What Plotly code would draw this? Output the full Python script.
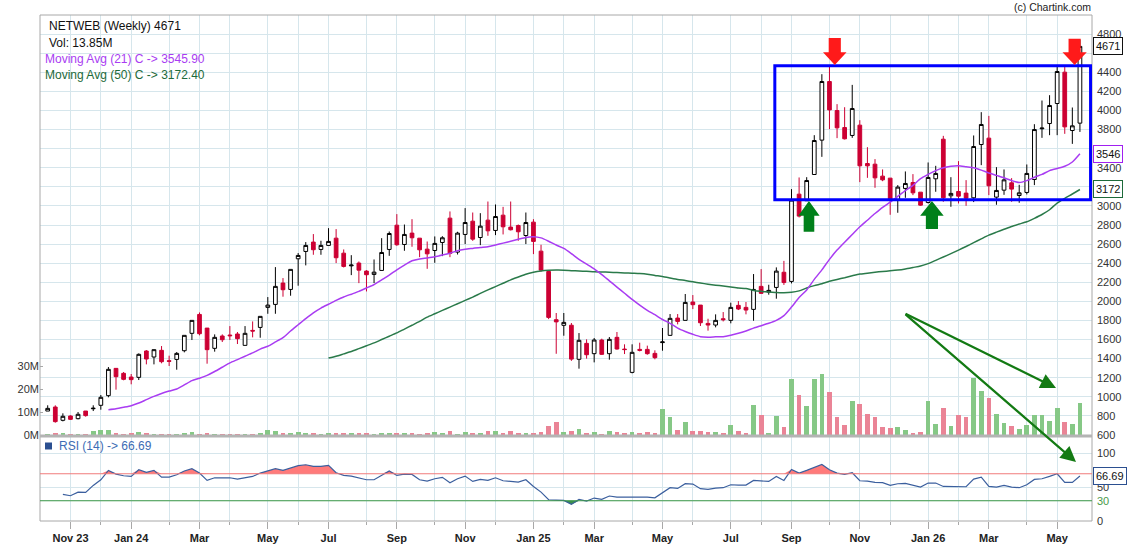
import plotly.graph_objects as go
import pandas as pd
import numpy as np

# ---------------- data ----------------
start_week = "2023-10-16"

opens = [851, 893, 754, 799, 771, 851, 875, 911, 1012, 1298,
         1246, 1207, 1204, 1480, 1417, 1487, 1378, 1392, 1483, 1665,
         1863, 1720, 1508, 1637, 1647, 1658, 1539, 1696, 1727, 1937,
         1968, 2192, 2125, 2446, 2523, 2621, 2544, 2586, 2662, 2505,
         2372, 2401, 2317, 2282, 2324, 2544, 2798, 2596, 2715, 2662,
         2547, 2533, 2617, 2872, 2516, 2701, 2840, 2669, 2851, 2743,
         2903, 2778, 2795, 2690, 2830, 2526, 2313, 1808, 1749, 1750,
         1393, 1560, 1452, 1595, 1452, 1623, 1500, 1256, 1497, 1497,
         1455, 1568, 1644, 1825, 1801, 1993, 1961, 1769, 1752, 1818,
         1801, 1958, 1937, 1916, 2157, 2097, 2146, 2305, 2209, 3123,
         3054, 3329, 3689, 4303, 3999, 3821, 3738, 3846, 3444, 3437,
         3312, 3291, 3064, 3183, 3245, 3144, 3036, 3284, 3699, 3106,
         3151, 3134, 3085, 3643, 3710, 3092, 3165, 3242, 3109, 3141,
         3277, 3808, 3863, 4073, 4401, 3790, 3867]
highs = [911, 911, 827, 806, 841, 851, 911, 1019, 1312, 1298,
         1260, 1239, 1455, 1490, 1494, 1532, 1431, 1469, 1644, 1801,
         1884, 1720, 1654, 1654, 1741, 1679, 1741, 1790, 1843, 2045,
         2359, 2244, 2335, 2506, 2621, 2705, 2635, 2767, 2757, 2544,
         2484, 2418, 2327, 2439, 2662, 2732, 2914, 2805, 2861, 2662,
         2627, 2680, 2683, 2942, 2729, 2977, 2931, 2924, 3046, 3015,
         2990, 3046, 2805, 2931, 2861, 2593, 2313, 1878, 1878, 1773,
         1668, 1602, 1616, 1609, 1626, 1679, 1550, 1550, 1567, 1536,
         1487, 1721, 1867, 1867, 2077, 2066, 1961, 1818, 1864, 1888,
         1986, 2003, 1993, 2286, 2338, 2174, 2356, 2424, 3176, 3298,
         3301, 3741, 4380, 4467, 4066, 4034, 4268, 3898, 3615, 3490,
         3382, 3291, 3218, 3361, 3333, 3144, 3455, 3420, 3734, 3301,
         3469, 3270, 3738, 3982, 3943, 3406, 3382, 3291, 3221, 3434,
         3856, 4104, 4160, 4477, 4474, 4031, 4742]
lows = [851, 729, 743, 757, 764, 792, 851, 865, 995, 1075,
        1173, 1131, 1176, 1340, 1340, 1351, 1323, 1284, 1466, 1595,
        1644, 1347, 1473, 1574, 1595, 1553, 1539, 1623, 1619, 1870,
        1870, 2049, 2059, 2164, 2377, 2488, 2488, 2586, 2401, 2355,
        2275, 2191, 2104, 2191, 2324, 2477, 2582, 2530, 2572, 2463,
        2341, 2404, 2474, 2463, 2491, 2600, 2634, 2589, 2687, 2694,
        2701, 2743, 2635, 2600, 2495, 2313, 1814, 1451, 1640, 1377,
        1295, 1400, 1361, 1438, 1389, 1494, 1448, 1246, 1476, 1441,
        1393, 1483, 1640, 1759, 1801, 1919, 1742, 1693, 1728, 1790,
        1770, 1909, 1864, 1797, 2080, 2070, 2028, 2172, 2188, 2879,
        3054, 3329, 3514, 3804, 3710, 3696, 3713, 3249, 3294, 3190,
        3259, 2907, 2928, 3085, 3113, 3001, 3026, 3148, 3043, 2991,
        3026, 3001, 3040, 3427, 3113, 3012, 3116, 3043, 3033, 3120,
        3218, 3713, 3741, 3741, 3755, 3650, 3775]
closes = [879, 740, 796, 764, 817, 803, 880, 995, 1288, 1211,
          1183, 1180, 1445, 1396, 1494, 1368, 1372, 1455, 1644, 1801,
          1661, 1494, 1623, 1598, 1640, 1609, 1665, 1689, 1843, 1961,
          2157, 2122, 2335, 2481, 2586, 2541, 2586, 2628, 2457, 2366,
          2380, 2327, 2279, 2306, 2512, 2711, 2593, 2701, 2666, 2540,
          2498, 2607, 2666, 2502, 2715, 2826, 2652, 2788, 2739, 2889,
          2781, 2750, 2729, 2826, 2628, 2327, 1832, 1785, 1780, 1395,
          1592, 1441, 1595, 1445, 1602, 1501, 1495, 1466, 1487, 1452,
          1410, 1575, 1822, 1790, 1989, 1965, 1776, 1752, 1801, 1808,
          1937, 1920, 1909, 2125, 2084, 2115, 2317, 2197, 3061, 2893,
          3266, 3685, 4303, 4006, 3818, 3703, 4020, 3420, 3420, 3294,
          3273, 3064, 3197, 3235, 3137, 3008, 3298, 3340, 3085, 3131,
          3102, 3081, 3622, 3853, 3211, 3162, 3273, 3176, 3137, 3340,
          3800, 3815, 4052, 4408, 3828, 3839, 4671]
volume_m = [0.4, 0.9, 0.9, 0.4, 0.4, 0.4, 1.7, 2.2, 2.2, 0.9,
            0.4, 0.6, 1.2, 0.9, 0.4, 0.4, 0.2, 0.4, 0.9, 1.3,
            0.4, 0.9, 0.4, 0.4, 0.4, 0.4, 0.4, 0.4, 0.9, 2.2,
            1.7, 0.9, 0.9, 1.3, 0.9, 0.9, 0.4, 0.9, 0.9, 0.9,
            0.9, 0.9, 0.9, 0.4, 0.9, 0.9, 0.9, 0.9, 0.9, 0.4,
            0.9, 1.3, 0.9, 1.7, 0.4, 1.3, 0.9, 0.9, 1.7, 1.7,
            0.9, 1.7, 0.9, 0.9, 0.9, 1.3, 3.9, 5.7, 1.3, 1.7,
            2.6, 0.9, 1.3, 0.4, 1.7, 1.3, 0.9, 1.3, 1.0, 1.3,
            0.9, 11.3, 7.8, 2.2, 5.7, 1.7, 1.7, 1.3, 1.3, 0.9,
            4.3, 1.7, 0.9, 13.0, 8.7, 0.9, 8.3, 3.5, 24.3, 17.4,
            12.6, 24.3, 26.5, 18.7, 7.8, 4.3, 14.8, 13.5, 9.1, 7.8,
            3.5, 3.0, 3.5, 2.2, 0.9, 1.3, 14.8, 4.8, 11.7, 3.9,
            8.7, 7.8, 24.8, 19.1, 16.1, 9.1, 5.2, 3.9, 2.6, 4.3,
            8.7, 8.7, 6.1, 11.7, 5.7, 4.8, 13.85]

ma21_start = 8
ma21 = [865, 875, 890, 907, 935, 970, 1005, 1035, 1060, 1082,
        1125, 1170, 1195, 1225, 1265, 1310, 1355, 1390, 1425, 1460,
        1500, 1530, 1575, 1620, 1690, 1755, 1820, 1880, 1930, 1970,
        2010, 2045, 2075, 2105, 2140, 2175, 2225, 2275, 2330, 2380,
        2425, 2445, 2455, 2467, 2485, 2505, 2530, 2545, 2555, 2565,
        2572, 2590, 2610, 2630, 2650, 2670, 2678, 2665, 2630, 2590,
        2555, 2500, 2440, 2390, 2340, 2280, 2215, 2150, 2085, 2020,
        1960, 1905, 1860, 1810, 1770, 1720, 1685, 1655, 1630, 1625,
        1628, 1630, 1645, 1665, 1690, 1720, 1745, 1770, 1800, 1850,
        1940, 2040, 2120, 2230, 2330, 2440, 2537, 2620, 2700, 2781,
        2850, 2920, 2985, 3040, 3100, 3160, 3215, 3285, 3330, 3370,
        3400, 3415, 3420, 3410, 3400, 3375, 3345, 3320, 3295, 3265,
        3245, 3265, 3300, 3330, 3370, 3392, 3415, 3460, 3546]

ma50_start = 37
ma50 = [1406, 1425, 1450, 1475, 1505, 1535, 1565, 1600, 1635, 1670,
        1710, 1750, 1790, 1835, 1870, 1905, 1940, 1975, 2010, 2045,
        2083, 2120, 2155, 2190, 2225, 2255, 2285, 2305, 2318, 2325,
        2328, 2327, 2322, 2318, 2315, 2310, 2308, 2305, 2302, 2298,
        2295, 2292, 2285, 2272, 2260, 2245, 2230, 2218, 2205, 2192,
        2180, 2170, 2160, 2150, 2140, 2134, 2115, 2105, 2098, 2092,
        2090, 2095, 2110, 2140, 2165, 2185, 2210, 2230, 2248, 2268,
        2286, 2295, 2305, 2313, 2320, 2328, 2340, 2355, 2370, 2395,
        2430, 2465, 2500, 2537, 2575, 2615, 2655, 2694, 2725, 2755,
        2785, 2810, 2834, 2870, 2910, 2960, 3030, 3080, 3125, 3172]

rsi_start = 2
rsi = [39.4, 37.4, 42.8, 42.3, 52.7, 61, 74.9, 69.5, 67, 66,
       75.9, 72, 74.9, 65, 65, 68.5, 74, 77.4, 71, 60.1,
       64, 63.6, 64, 62.1, 64, 66, 71, 74, 77.4, 74.9,
       78.9, 81.9, 83.3, 80.9, 80.9, 82.3, 71.5, 67.5, 66.5, 64,
       61.1, 61.1, 67.5, 74, 67.5, 69.5, 69, 61.1, 59.1, 62.6,
       64.6, 56.7, 62.6, 66.5, 58.6, 61.6, 60.1, 64, 59.6, 58.1,
       57.7, 61.1, 51.2, 42.8, 31.5, 31, 30.5, 24.6, 32, 29.5,
       34, 32, 37, 35.4, 35.4, 35, 36, 35.4, 34.4, 41.4,
       49.3, 48.3, 55.2, 54.7, 47.8, 46.8, 48.8, 49.3, 53.7, 53.2,
       53.2, 60.1, 59.1, 58.6, 66, 60.1, 76.4, 71, 74.9, 78.9,
       83.8, 75.9, 71, 69, 71.5, 59.6, 59.1, 57.2, 56.7, 52.7,
       55.2, 55.7, 53.2, 50.2, 56.2, 56.2, 51.2, 51.2, 50.7, 50.7,
       62.1, 65, 51.2, 50.2, 52.7, 50.2, 49.3, 53.7, 61.6, 62.6,
       66, 70, 57.2, 57.2, 66.69]

tick_labels = ["Nov 23", "Jan 24", "Mar", "May", "Jul", "Sep", "Nov", "Jan 25",
               "Mar", "May", "Jul", "Sep", "Nov", "Jan 26", "Mar", "May"]
price_ticks = list(range(600, 4801, 200))
hidden_price_ticks = [3200, 3600, 4600]
vol_ticks_m = [0, 10, 20, 30]
rsi_ticks = [0, 30, 50, 100]
last_close = 4671
last_ma21 = 3545.90
last_ma50 = 3172.40
last_rsi = 66.69
last_vol = 13.85

# ---------------- derived positions ----------------
n = len(closes)
idx = np.arange(n)
dates = pd.date_range(start_week, periods=n, freq="7D")
month_starts = [i for i in range(1, n) if dates[i].month != dates[i - 1].month]
major = [i for i in month_starts if dates[i].month % 2 == 1]
minor = [i for i in month_starts if dates[i].month % 2 == 0]

ma21_x = np.arange(ma21_start, ma21_start + len(ma21))
ma50_x = np.arange(ma50_start, ma50_start + len(ma50))
rsi_x = np.arange(rsi_start, rsi_start + len(rsi))
rsi_arr = np.array(rsi)

# ---------------- styles ----------------
GRID = "#d6e6ec"
FRAME = "#a8a8a8"
RED = "#cc0033"
PURPLE = "#a93cf2"
MAGREEN = "#2a7a4a"
RSIBLUE = "#3b5f9e"
FONT = "Liberation Sans, Arial, sans-serif"

W, H = 1127, 551
L, R, T, B = 40, 35, 15, 30
plot_h = H - T - B
main_bottom_px = 435
rsi_top_px = 437
main_dom = [(H - B - main_bottom_px) / plot_h, 1.0]
rsi_dom = [0.0, (H - B - rsi_top_px) / plot_h]

x_range = [-1.014, 137.59]
price_range = [600, 5000]
vol_range = [0, 182.6]
rsi_range = [0, 124.4]

fig = go.Figure()

vol_colors = ["#86c886" if c >= o else "#ea8496" for o, c in zip(opens, closes)]
fig.add_trace(go.Bar(x=idx, y=volume_m, yaxis="y", marker=dict(color=vol_colors, line=dict(width=0)),
                     width=0.62, hoverinfo="skip", showlegend=False))

fig.add_trace(go.Scatter(x=ma50_x, y=ma50, yaxis="y2", mode="lines",
                         line=dict(color=MAGREEN, width=1.5, shape="spline", smoothing=0.6),
                         hoverinfo="skip", showlegend=False))
fig.add_trace(go.Scatter(x=ma21_x, y=ma21, yaxis="y2", mode="lines",
                         line=dict(color=PURPLE, width=1.5, shape="spline", smoothing=0.6),
                         hoverinfo="skip", showlegend=False))

fig.add_trace(go.Candlestick(x=idx, open=opens, high=highs, low=lows, close=closes, yaxis="y2",
                             increasing=dict(line=dict(color="black", width=1), fillcolor="white"),
                             decreasing=dict(line=dict(color=RED, width=1), fillcolor=RED),
                             whiskerwidth=0, hoverinfo="skip", showlegend=False))

# RSI panel
fig.add_trace(go.Scatter(x=rsi_x, y=np.full(len(rsi_x), 70.0), yaxis="y3", mode="lines",
                         line=dict(width=0), hoverinfo="skip", showlegend=False))
fig.add_trace(go.Scatter(x=rsi_x, y=np.maximum(rsi_arr, 70.0), yaxis="y3", mode="lines",
                         line=dict(width=0), fill="tonexty", fillcolor="#ff7a7a",
                         hoverinfo="skip", showlegend=False))
fig.add_trace(go.Scatter(x=rsi_x, y=np.full(len(rsi_x), 30.0), yaxis="y3", mode="lines",
                         line=dict(width=0), hoverinfo="skip", showlegend=False))
fig.add_trace(go.Scatter(x=rsi_x, y=np.minimum(rsi_arr, 30.0), yaxis="y3", mode="lines",
                         line=dict(width=0), fill="tonexty", fillcolor="#3a8f4a",
                         hoverinfo="skip", showlegend=False))
fig.add_trace(go.Scatter(x=rsi_x, y=rsi, yaxis="y3", mode="lines",
                         line=dict(color=RSIBLUE, width=1.2),
                         hoverinfo="skip", showlegend=False))

price_text = ["" if v in hidden_price_ticks else str(v) for v in price_ticks]

fig.update_layout(
    width=W, height=H, autosize=False,
    margin=dict(l=L, r=R, t=T, b=B, pad=0, autoexpand=False),
    paper_bgcolor="white", plot_bgcolor="white",
    font=dict(family=FONT, size=11, color="#333"),
    showlegend=False,
    bargap=0,
    xaxis=dict(domain=[0, 1], range=x_range, anchor="y3", showgrid=True, gridcolor=GRID, gridwidth=1,
               automargin=False,
               tickmode="array", tickvals=major, ticktext=tick_labels,
               ticks="outside", ticklen=7, tickcolor=FRAME,
               tickfont=dict(family=FONT, size=11, color="#222", weight="bold"),
               minor=dict(tickmode="array", tickvals=minor, ticks="outside", ticklen=3,
                          tickcolor=FRAME, showgrid=True, gridcolor=GRID),
               showline=False, zeroline=False, rangeslider=dict(visible=False), fixedrange=True),
    yaxis=dict(domain=main_dom, range=vol_range, anchor="x", side="left", automargin=False,
               tickmode="array", tickvals=vol_ticks_m, ticktext=[f"{v}M" for v in vol_ticks_m],
               ticks="inside", ticklen=3, tickcolor=FRAME,
               tickfont=dict(size=11, color="#333"),
               showgrid=False, zeroline=False, showline=False),
    yaxis2=dict(domain=main_dom, range=price_range, overlaying="y", anchor="x", side="right",
                automargin=False, ticklabelstandoff=4,
                tickmode="array", tickvals=price_ticks, ticktext=price_text,
                showgrid=True, gridcolor=GRID, gridwidth=1, ticks="",
                tickfont=dict(size=11, color="#333"), zeroline=False, showline=False),
    yaxis3=dict(domain=rsi_dom, range=rsi_range, anchor="x", side="right",
                automargin=False, ticklabelstandoff=4,
                tickmode="array", tickvals=rsi_ticks,
                ticktext=["0", "<span style='color:#4a9a4a'>30</span>", "50", "100"],
                showgrid=True, gridcolor=GRID, ticks="",
                tickfont=dict(size=11, color="#333"), zeroline=False, showline=False),
)

shapes = []
# frame and separator
shapes.append(dict(type="rect", xref="paper", yref="paper", x0=0, x1=1, y0=0, y1=1,
                   line=dict(color=FRAME, width=1), layer="above"))
sep_y = (H - B - 436) / plot_h
shapes.append(dict(type="line", xref="paper", yref="paper", x0=0, x1=1, y0=sep_y, y1=sep_y,
                   line=dict(color="#b4b4b4", width=3), layer="above"))
# RSI 70 / 30 lines
shapes.append(dict(type="line", xref="paper", yref="y3", x0=0, x1=1, y0=70, y1=70,
                   line=dict(color="#f07b7b", width=1.2), layer="above"))
shapes.append(dict(type="line", xref="paper", yref="y3", x0=0, x1=1, y0=30, y1=30,
                   line=dict(color="#3f9a48", width=1.2), layer="above"))

# Blue consolidation box
box = dict(x0=95.8, x1=137.4, y0=3065, y1=4469)
shapes.append(dict(type="rect", xref="x", yref="y2", line=dict(color="#0000ff", width=3),
                   fillcolor="rgba(0,0,0,0)", layer="above", **box))

def block_arrow(cx, tip, base, tail, head_hw, shaft_hw, color):
    path = (f"M {cx},{tip} L {cx - head_hw},{base} L {cx - shaft_hw},{base} "
            f"L {cx - shaft_hw},{tail} L {cx + shaft_hw},{tail} L {cx + shaft_hw},{base} "
            f"L {cx + head_hw},{base} Z")
    return dict(type="path", xref="x", yref="y2", path=path, fillcolor=color,
                line=dict(width=0), layer="above")

# red down arrows (tip at box top)
shapes.append(block_arrow(103.7, 4476, 4610, 4760, 1.55, 0.8, "#ff1a1a"))
shapes.append(block_arrow(135.3, 4476, 4610, 4750, 1.6, 0.8, "#ff1a1a"))
# green up arrows (tip at box bottom)
shapes.append(block_arrow(100.3, 3052, 2898, 2730, 1.4, 0.7, "#00801a"))
shapes.append(block_arrow(116.5, 3052, 2898, 2758, 1.55, 0.8, "#00801a"))
fig.update_layout(shapes=shapes)

def pxx(px):
    return (px - L) / (W - L - R)

def pxy(py):
    return (H - B - py) / plot_h

ann = []
def text(x, y, s, color="#000", size=12, xanchor="left", **kw):
    ann.append(dict(xref="paper", yref="paper", x=pxx(x), y=pxy(y), text=s, showarrow=False,
                    xanchor=xanchor, yanchor="middle", font=dict(family=FONT, size=size, color=color), **kw))

text(47, 26, f"NETWEB (Weekly) {last_close}", "#111")
text(47, 43, f"Vol: {last_vol:.2f}M", "#111")
text(43, 59, f"Moving Avg (21) C -> {last_ma21:.2f}", PURPLE)
text(43, 75, f"Moving Avg (50) C -> {last_ma50:.2f}", "#1d6a3a")
text(1093, 7, "(c) Chartink.com", "#222", size=10.5, xanchor="right")
text(57, 446, f"RSI (14) -> {last_rsi:.2f}", "#3d6cb4")
# RSI legend square
fig.add_shape(type="rect", xref="paper", yref="paper", x0=pxx(45), x1=pxx(52), y0=pxy(449.5), y1=pxy(442.5),
              fillcolor="#2b4f90", line=dict(width=0), layer="above")

# boxed last-value labels on the right
def box_label(val, yref, border, txt):
    ann.append(dict(xref="paper", yref=yref, x=1, y=val, xanchor="left", yanchor="middle", xshift=1,
                    text=txt, showarrow=False, bgcolor="white", bordercolor=border, borderwidth=1,
                    borderpad=2, font=dict(family=FONT, size=11, color="#111")))

box_label(last_close, "y2", "#111", f"{last_close}")
box_label(last_ma21, "y2", "#a020f0", f"{round(last_ma21)}")
box_label(last_ma50, "y2", "#1d6a3a", f"{round(last_ma50)}")
box_label(last_rsi, "y3", "#2b4f90", f"{last_rsi:.2f}")

# dark green trend arrows: common tail, two heads
ann_tail = (904, 313)
for head in [(1056, 388), (1076, 462)]:
    ann.append(dict(xref="paper", yref="paper", x=pxx(head[0]), y=pxy(head[1]),
                    ax=ann_tail[0] - head[0], ay=ann_tail[1] - head[1], axref="pixel", ayref="pixel",
                    text="", showarrow=True, arrowhead=2, arrowsize=1.4, arrowwidth=2.2,
                    arrowcolor="#137a13"))

fig.update_layout(annotations=ann)
fig.write_html("out.html")
